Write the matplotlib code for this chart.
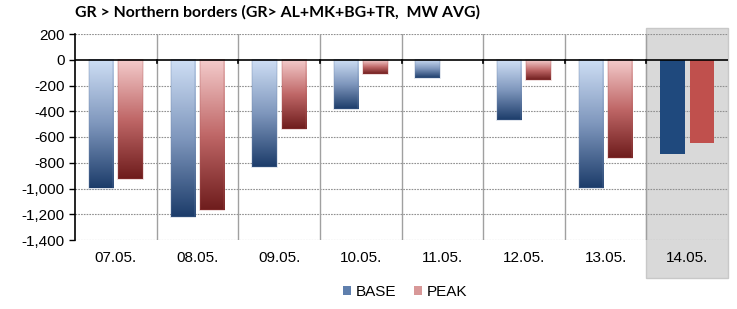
import numpy as np
import matplotlib
matplotlib.use('Agg')
from matplotlib import pyplot as plt
from matplotlib.colors import LinearSegmentedColormap
from matplotlib.patches import Rectangle

days = ['07.05.', '08.05.', '09.05.', '10.05.', '11.05.', '12.05.', '13.05.', '14.05.']
base = [-1000, -1225, -835, -382, -142, -466, -996, -732]
peak = [-930, -1170, -540, -108, 0, -155, -763, -647]

plt.rcParams['font.family'] = ['Liberation Sans', 'DejaVu Sans']

base_cmap = LinearSegmentedColormap.from_list('b', ['#cfdff5', '#7f97bd', '#1c3c6a'])
peak_cmap = LinearSegmentedColormap.from_list('p', ['#f4cccc', '#c06868', '#6e1c1c'])
grad = np.linspace(0, 1, 256).reshape(-1, 1)

fig = plt.figure(figsize=(7.37, 3.09), dpi=100)
ax = fig.add_axes([75 / 737, 69 / 309, 653 / 737, 206 / 309])

n = len(days)
x = np.arange(n)
w = 0.30
off = 0.18

# grey highlight for the latest day
ax.add_patch(Rectangle((n - 1.5, -1400 - 38 / 0.1288), 1.0, 1600 + 44 / 0.1288,
                       facecolor='#d9d9d9', edgecolor='#c8c8c8', zorder=0, clip_on=False))

for i in range(n):
    for val, sign, cmap, solid in [(base[i], -1, base_cmap, '#1f497d'), (peak[i], 1, peak_cmap, '#c0504d')]:
        if val == 0:
            continue
        x0 = x[i] + sign * off - w / 2
        if i == n - 1:
            ax.bar(x[i] + sign * off, val, width=w, color=solid, zorder=3)
        else:
            ax.imshow(grad, extent=[x0, x0 + w, val, 0], aspect='auto', cmap=cmap, zorder=3,
                      interpolation='bilinear')
            ax.add_patch(Rectangle((x0, val), w, -val, fill=False, edgecolor=cmap(0.6),
                                   linewidth=1.2, alpha=0.25, zorder=4))

ax.set_xlim(-0.5, n - 0.5)
ax.set_ylim(-1400, 200)
ax.set_yticks(range(-1400, 201, 200))
ax.set_yticklabels([f'{v:,}' for v in range(-1400, 201, 200)], fontsize=11)
ax.set_xticks(x)
ax.set_xticklabels(days, fontsize=11)
ax.tick_params(axis='x', length=0, pad=8)
ax.tick_params(axis='y', length=4, direction='out', width=1)

for yv in range(-1400, 201, 200):
    if yv != 0:
        ax.axhline(yv, color='#909090', linestyle=(0, (1.5, 1)), linewidth=0.8, zorder=1)
for xv in np.arange(0.5, n - 0.5, 1):
    ax.axvline(xv, color='#a0a0a0', linewidth=1.0, zorder=1)
    ax.plot([xv, xv], [0, -25], color='black', linewidth=1.2, zorder=5)
ax.axhline(0, color='black', linewidth=1.2, zorder=5)

for s in ['top', 'right', 'bottom']:
    ax.spines[s].set_visible(False)
ax.spines['left'].set_linewidth(1.2)
ax.patch.set_alpha(0)

fig.text(75 / 737, 1 - 12 / 309, 'GR > Northern borders (GR> AL+MK+BG+TR,  MW AVG)',
         fontsize=11.4, fontweight='bold', va='center', ha='left', family=['Lato', 'DejaVu Sans'])

h1 = Rectangle((0, 0), 1, 1, facecolor='#5f7fad')
h2 = Rectangle((0, 0), 1, 1, facecolor='#d89898')
fig.legend([h1, h2], ['BASE', 'PEAK'], loc='center', bbox_to_anchor=(405 / 737, 1 - 292 / 309),
           ncol=2, frameon=False, fontsize=11, handlelength=0.5, handleheight=0.5,
           handletextpad=0.3, columnspacing=1.2)

plt.savefig('out.png', dpi=100)
